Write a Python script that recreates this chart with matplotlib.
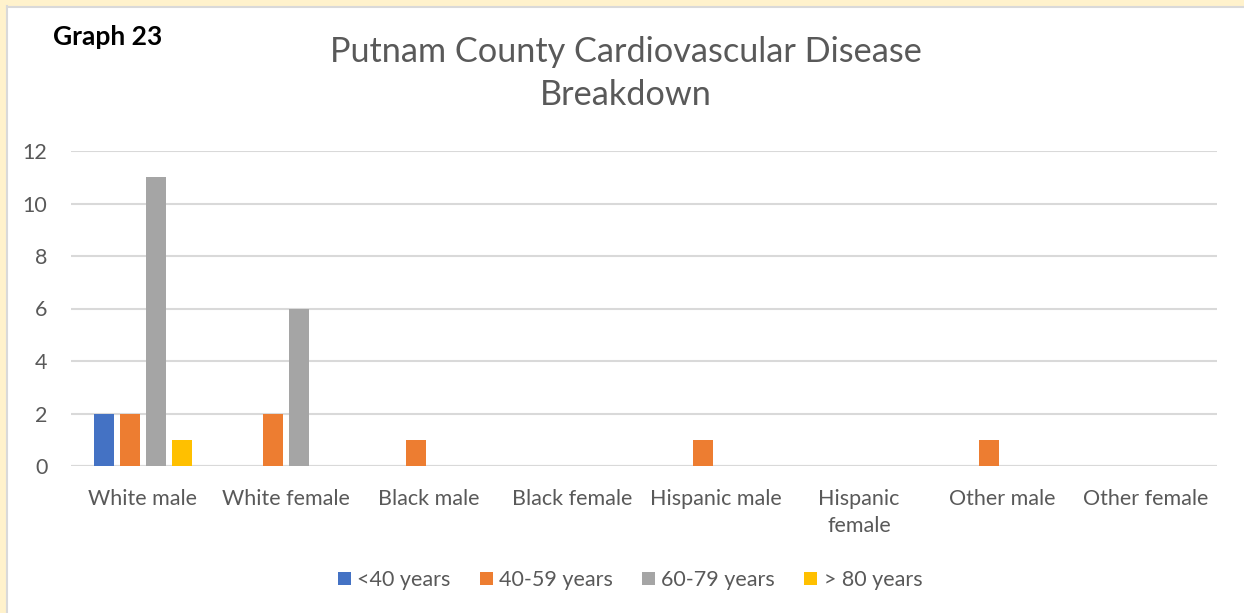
import matplotlib
matplotlib.use("Agg")
import matplotlib.pyplot as plt
import numpy as np
from matplotlib.patches import Rectangle
from matplotlib.lines import Line2D

categories = ["White male", "White female", "Black male", "Black female",
              "Hispanic male", "Hispanic\nfemale", "Other male", "Other female"]
series_names = ["<40 years", "40-59 years", "60-79 years", "> 80 years"]
under_40 = [2, 0, 0, 0, 0, 0, 0, 0]
age_40_59 = [2, 2, 1, 0, 1, 0, 1, 0]
age_60_79 = [11, 6, 0, 0, 0, 0, 0, 0]
over_80 = [1, 0, 0, 0, 0, 0, 0, 0]
yticks = [0, 2, 4, 6, 8, 10, 12]

colors = ["#4472C4", "#ED7D31", "#A5A5A5", "#FFC000"]
series = [under_40, age_40_59, age_60_79, over_80]

plt.rcParams['font.family'] = ['Lato', 'DejaVu Sans']
W, H = 1244, 613
fig = plt.figure(figsize=(W / 100, H / 100), dpi=100)
fig.patch.set_facecolor("white")

# cream border on left & top with grey line
fig.patches.append(Rectangle((0, 0), 6 / W, 1, transform=fig.transFigure, color="#FFF2CC", zorder=0))
fig.patches.append(Rectangle((0, 1 - 6 / H), 1, 6 / H, transform=fig.transFigure, color="#FFF2CC", zorder=0))
fig.lines.append(Line2D([7 / W, 7 / W], [0, 1 - 6 / H], transform=fig.transFigure, color="#D9D9D9", lw=1.5))
fig.lines.append(Line2D([7 / W, 1], [1 - 7 / H, 1 - 7 / H], transform=fig.transFigure, color="#D9D9D9", lw=1.5))

ax = fig.add_axes([71 / W, 1 - 466 / H, (1217 - 71) / W, (466 - 151) / H])
x = np.arange(len(categories))
step = 0.1815
width = 0.14
for i, (vals, name, c) in enumerate(zip(series, series_names, colors)):
    ax.bar(x + (i - 1.5) * step, vals, width, color=c, label=name, zorder=3)

ax.set_xlim(-0.5, len(categories) - 0.5)
ax.set_ylim(0, 12)
ax.set_yticks(yticks)
ax.yaxis.grid(True, color="#D9D9D9", lw=1.5, zorder=0)
for s in ax.spines.values():
    s.set_visible(False)
ax.tick_params(axis="both", length=0, colors="#595959", labelsize=15.5)
ax.tick_params(axis="y", pad=17)
ax.tick_params(axis="x", pad=16.5)
ax.set_xticks(x)
ax.set_xticklabels(categories, linespacing=1.45)
ax.axhline(0, color="#D9D9D9", lw=1.5, zorder=2)

fig.text(626 / W, 1 - 73.5 / H, "Putnam County Cardiovascular Disease\nBreakdown",
         ha="center", va="center", fontsize=24.7, color="#595959", linespacing=1.42)
fig.text(53 / W, 1 - 37 / H, "Graph 23", ha="left", va="center", fontsize=19,
         fontweight="bold", color="black")

leg = fig.legend(loc="center", bbox_to_anchor=(630 / W, 1 - 580 / H), ncol=4, frameon=False,
                 fontsize=15.5, handlelength=0.6, handleheight=0.6, handletextpad=0.3,
                 columnspacing=1.35, labelcolor="#595959")

fig.savefig("out.png", dpi=100)
